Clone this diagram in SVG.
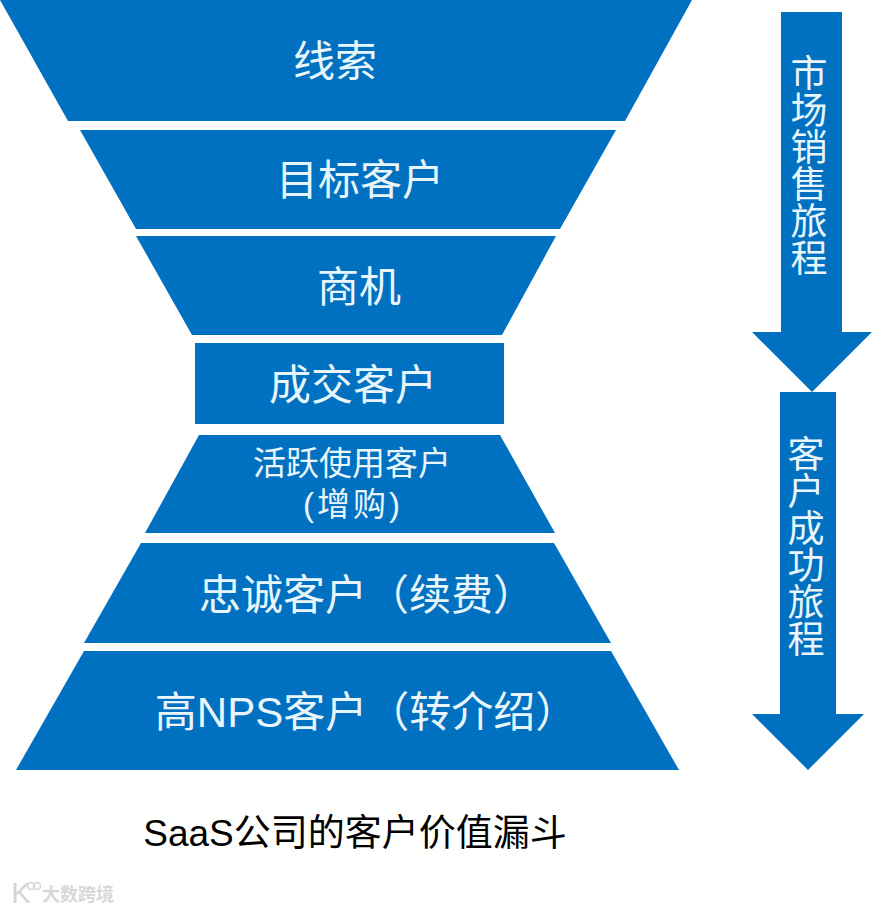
<svg xmlns="http://www.w3.org/2000/svg" width="872" height="910" viewBox="0 0 872 910">
<style>
.s{fill:#0070c0}
text{font-family:"Liberation Sans","Noto Sans CJK SC",sans-serif;fill:#e8f6fc;text-anchor:middle}
.v text{font-size:37px}
</style>
<rect width="872" height="910" fill="#fff"/>
<g id="n1"><polygon class="s" points="0,0 692,0 625,121 68,121"/><text x="335" y="76" font-size="42">线索</text></g>
<g id="n2"><polygon class="s" points="80,130 616,130 560,229 136,229"/><text x="360" y="195" font-size="42">目标客户</text></g>
<g id="n3"><polygon class="s" points="136,236 556,236 502,335 192,335"/><text x="359" y="302" font-size="42">商机</text></g>
<g id="n4"><rect class="s" x="195" y="343" width="309" height="81"/><text x="353" y="400" font-size="42">成交客户</text></g>
<g id="n5"><polygon class="s" points="199,435 500,435 555,533 145,533"/><text x="352" y="475" font-size="33">活跃使用客户</text><text x="353" y="516" font-size="33" letter-spacing="3">(增购)</text></g>
<g id="n6"><polygon class="s" points="141,543 554,543 611,643 84,643"/><text x="367" y="610" font-size="42">忠诚客户（续费）</text></g>
<g id="n7"><polygon class="s" points="84,651 611,651 679,770 16,770"/><text x="366" y="727" font-size="42">高NPS客户（转介绍）</text></g>
<g id="a1"><polygon class="s" points="781,12 842,12 842,332 872,332 812,392 752,332 781,332"/>
<g class="v"><text x="809" y="87">市</text><text x="809" y="124">场</text><text x="809" y="161">销</text><text x="809" y="198">售</text><text x="809" y="235">旅</text><text x="809" y="272">程</text></g></g>
<g id="a2"><polygon class="s" points="780,392 836,392 836,714 864,714 808,770 752,714 780,714"/>
<g class="v"><text x="806" y="468">客</text><text x="806" y="505">户</text><text x="806" y="542">成</text><text x="806" y="579">功</text><text x="806" y="616">旅</text><text x="806" y="653">程</text></g></g>
<g id="caption"><text x="355" y="846" font-size="37" style="fill:#000">SaaS公司的客户价值漏斗</text></g>
<g id="watermark"><text x="21" y="903" font-size="29" style="fill:#d4d4d4">K</text><circle cx="31" cy="886" r="3.5" fill="none" stroke="#d4d4d4" stroke-width="1.5"/><circle cx="37" cy="886" r="3.5" fill="none" stroke="#d4d4d4" stroke-width="1.5"/><text x="78" y="901" font-size="18" font-weight="700" style="fill:#d8d8d8">大数跨境</text></g>
</svg>
